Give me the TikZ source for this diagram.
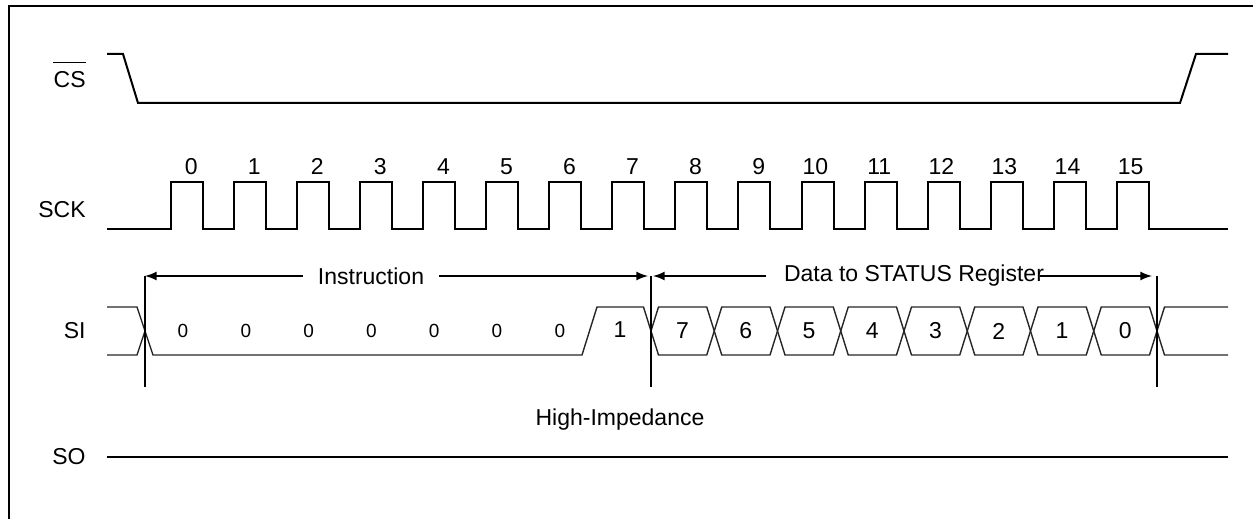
\documentclass[tikz,border=0pt]{standalone}
\usepackage{fontspec}
\setmainfont{Liberation Sans}
\usetikzlibrary{arrows}

\begin{document}
\begin{tikzpicture}[x=0.5pt, y=-0.5pt,
    every node/.style={font=\fontsize{11.5}{13}\selectfont, inner sep=0pt},
    wave/.style={line width=1pt},
    bus/.style={line width=0.7pt, black!85},
    marker/.style={line width=1pt},
    arr/.style={-latex, line width=1pt},
    bitsmall/.style={font=\fontsize{9.5}{11}\selectfont}]
    \useasboundingbox (0,0) rectangle (1253,519);
    \draw[line width=1.1pt] (9,519) -- (9,6) -- (1253,6);
    % signal names
    \node[anchor=east] (cs) at (86,80) {CS};
    \draw[line width=0.8pt] ([yshift=4.5pt]cs.north west) -- ([yshift=4.5pt]cs.north east);
    \node[anchor=east] (sck) at (86,210) {SCK};
    \node[anchor=east] (si) at (86,331) {SI};
    \node[anchor=east] (so) at (86,457) {SO};
    % CS
    \draw[wave] (107,54) -- (123,54) -- (138,103) -- (1180,103) -- (1196,54) -- (1228,54);
    % SCK
    \draw[wave] (107,229) \foreach \k in {0,...,15} { -- ({171+63.05*\k},229) -- ++(0,-47) -- ++(32,0) -- ++(0,47) } -- (1228,229);
    \foreach \k in {0,...,15}
        \node[anchor=south east] (clk\k) at ({198+63.05*\k},175) {\k};
    % SI
    \draw[bus] (107,307) -- (137,307) -- (153,355) -- (582,355) -- (597,307) -- (643.5,307) -- (651,331);
    \draw[bus] (107,355) -- (137,355) -- (145,331);
    \foreach \k in {0,...,7}
        \draw[bus] ({651+63.25*\k},331) -- ++(7.5,-24) -- ({651+63.25*(\k+1)-7.5},307) -- ++(7.5,24) -- ++(-7.5,24) -- ({651+63.25*\k+7.5},355) -- cycle;
    \draw[bus] (1228,307) -- (1164.5,307) -- (1157,331) -- (1164.5,355) -- (1228,355);
    \foreach \k in {0,...,6}
        \node[bitsmall] (ins\k) at ({183+62.8*\k},331) {0};
    \node (ins7) at (620,330) {1};
    \foreach \v [count=\k from 0] in {7,6,5,4,3,2,1,0}
        \node (bit\v) at ({682.6+63.25*\k},331) {\v};
    % markers
    \coordinate (mA) at (145,276);
    \coordinate (mB) at (651,276);
    \coordinate (mC) at (1157,276);
    \draw[marker] (mA) -- (145,387);
    \draw[marker] (mB) -- (651,387);
    \draw[marker] (mC) -- (1157,387);
    \node[inner xsep=7.5pt] (instr) at (371,276) {Instruction};
    \node[inner xsep=9pt] (data) at (914,276) {Data to STATUS Register};
    \draw[arr] (instr.west) -- (mA);
    \draw[arr, shorten >=1.5pt] (instr.east) -- (mB);
    \draw[arr, shorten >=1pt] (data.west) -- (mB);
    \draw[arr, shorten >=2.5pt] ([xshift=-11pt]data.east) -- (mC);
    % SO
    \node (hiz) at (620,420) {High-Impedance};
    \draw[wave] (107,457) -- (1228,457);
\end{tikzpicture}
\end{document}
